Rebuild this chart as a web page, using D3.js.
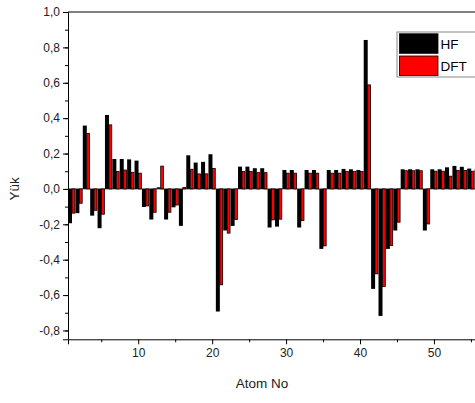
<!DOCTYPE html>
<html>
<head>
<meta charset="utf-8">
<script src="https://cdn.jsdelivr.net/npm/d3@7"></script>
<style>
  body { margin: 0; background: #fff; overflow: hidden; }
  svg { display: block; font-family: "Liberation Sans", Arial, sans-serif; }
</style>
</head>
<body>
<svg id="chart" width="475" height="403"></svg>
<script>
// atom numbers 1..56
const atoms = d3.range(1, 57)

// Mulliken charges
const hfValues = [
    -0.194, -0.137, 0.358, -0.151, -0.222, 0.418, 0.169, 0.169, 0.167, 0.160,
    -0.102, -0.173, 0.009, -0.173, -0.104, -0.209, 0.190, 0.149, 0.153, 0.196,
    -0.693, -0.235, -0.209, 0.126, 0.126, 0.117, 0.117, -0.218, -0.213, 0.107,
    0.107, -0.218, 0.107, 0.107, -0.339, 0.107, 0.107, 0.113, 0.111, 0.107,
    0.842, -0.565, -0.718, -0.339, -0.235, 0.111, 0.111, 0.111, -0.235, 0.111,
    0.111, 0.122, 0.130, 0.125, 0.115, 0.110
]
const dftValues = [
    -0.137, -0.081, 0.314, -0.121, -0.143, 0.362, 0.098, 0.107, 0.094, 0.089,
    -0.096, -0.132, 0.129, -0.132, -0.091, 0.008, 0.111, 0.085, 0.085, 0.115,
    -0.542, -0.250, -0.173, 0.098, 0.098, 0.092, 0.092, -0.175, -0.171, 0.089,
    0.089, -0.179, 0.089, 0.089, -0.322, 0.089, 0.089, 0.098, 0.098, 0.098,
    0.588, -0.480, -0.552, -0.320, -0.188, 0.103, 0.103, 0.103, -0.198, 0.100,
    0.100, 0.072, 0.105, 0.105, 0.100, 0.100
]

const yTicks = [-0.8, -0.6, -0.4, -0.2, 0.0, 0.2, 0.4, 0.6, 0.8, 1.0]
const xTicks = [10, 20, 30, 40, 50]
const seriesNames = ['HF', 'DFT']
const seriesColors = ['#000000', '#ff0000']

const plot = { left: 68, top: 12, right: 482, bottom: 339.3 }

var svg = d3.select('#chart')

var xScale = d3.scaleLinear()
    .domain([0.5, 56.5])
    .range([plot.left, plot.right])

var yScale = d3.scaleLinear()
    .domain([-0.85, 1.0])
    .range([plot.bottom, plot.top])

const step = xScale(1) - xScale(0)
const fmt = d => d.toFixed(1).replace('.', ',')

// zero line
svg.append('line')
    .attr('x1', plot.left).attr('x2', plot.right)
    .attr('y1', yScale(0)).attr('y2', yScale(0))
    .attr('stroke', '#555').attr('stroke-width', 1)

// HF bars
svg.append('g').selectAll('rect')
    .data(atoms)
    .join('rect')
    .attr('x', d => xScale(d) - step * 0.5)
    .attr('width', step * 0.54)
    .attr('y', (d, i) => Math.min(yScale(hfValues[i]), yScale(0)))
    .attr('height', (d, i) => Math.abs(yScale(hfValues[i]) - yScale(0)))
    .attr('fill', seriesColors[0])

// DFT bars
svg.append('g').selectAll('rect')
    .data(atoms)
    .join('rect')
    .attr('x', d => xScale(d) + step * 0.04)
    .attr('width', step * 0.38)
    .attr('y', (d, i) => Math.min(yScale(dftValues[i]), yScale(0)))
    .attr('height', (d, i) => Math.abs(yScale(dftValues[i]) - yScale(0)))
    .attr('fill', seriesColors[1])
    .attr('stroke', '#000')
    .attr('stroke-width', 0.8)

// Y axis with minor ticks
const yMinor = d3.range(-0.8, 1.001, 0.1).map(v => +v.toFixed(1))
svg.append('g')
    .attr('transform', 'translate(' + plot.left + ',0)')
    .call(d3.axisLeft(yScale).tickValues(yMinor).tickSize(3).tickFormat(''))
    .call(g => g.select('.domain').remove())
svg.append('g')
    .attr('id', 'y-axis')
    .attr('transform', 'translate(' + plot.left + ',0)')
    .call(d3.axisLeft(yScale).tickValues(yTicks).tickSize(5).tickPadding(3).tickFormat(fmt))

// X axis with minor ticks
svg.append('g')
    .attr('transform', 'translate(0,' + plot.bottom + ')')
    .call(d3.axisBottom(xScale).tickValues([5, 15, 25, 35, 45, 55]).tickSize(3).tickFormat(''))
    .call(g => g.select('.domain').remove())
svg.append('g')
    .attr('id', 'x-axis')
    .attr('transform', 'translate(0,' + plot.bottom + ')')
    .call(d3.axisBottom(xScale).tickValues(xTicks).tickSize(5).tickPadding(4))

// top frame line
svg.append('line')
    .attr('x1', plot.left).attr('x2', plot.right)
    .attr('y1', plot.top).attr('y2', plot.top)
    .attr('stroke', '#000').attr('stroke-width', 1)

svg.selectAll('.tick text')
    .attr('fill', '#222')
    .style('font-size', '12px')
    .style('font-family', '"Liberation Sans", Arial, sans-serif')
svg.selectAll('.domain').attr('stroke', '#000')

// axis titles
svg.append('text')
    .attr('x', 262).attr('y', 388)
    .attr('text-anchor', 'middle')
    .attr('fill', '#222')
    .style('font-size', '13.5px')
    .text('Atom No')

svg.append('text')
    .attr('transform', 'translate(19,' + yScale(0) + ') rotate(-90)')
    .attr('text-anchor', 'middle')
    .attr('fill', '#222')
    .style('font-size', '13.5px')
    .text('Yük')

// legend
var legend = svg.append('g').attr('transform', 'translate(397,32)')
legend.append('rect')
    .attr('x', 0).attr('y', 0)
    .attr('width', 100).attr('height', 45)
    .attr('fill', '#fff').attr('stroke', '#888').attr('stroke-width', 1)
seriesNames.forEach((name, i) => {
    legend.append('rect')
        .attr('x', 2.5).attr('y', 1.8 + i * 22.2)
        .attr('width', 38.5).attr('height', 19.5)
        .attr('fill', seriesColors[i])
        .attr('stroke', '#000').attr('stroke-width', 0.8)
    legend.append('text')
        .attr('x', 43.5).attr('y', 16.5 + i * 22.2)
        .attr('fill', '#000')
        .style('font-size', '13.5px')
        .text(name)
})
</script>
</body>
</html>
